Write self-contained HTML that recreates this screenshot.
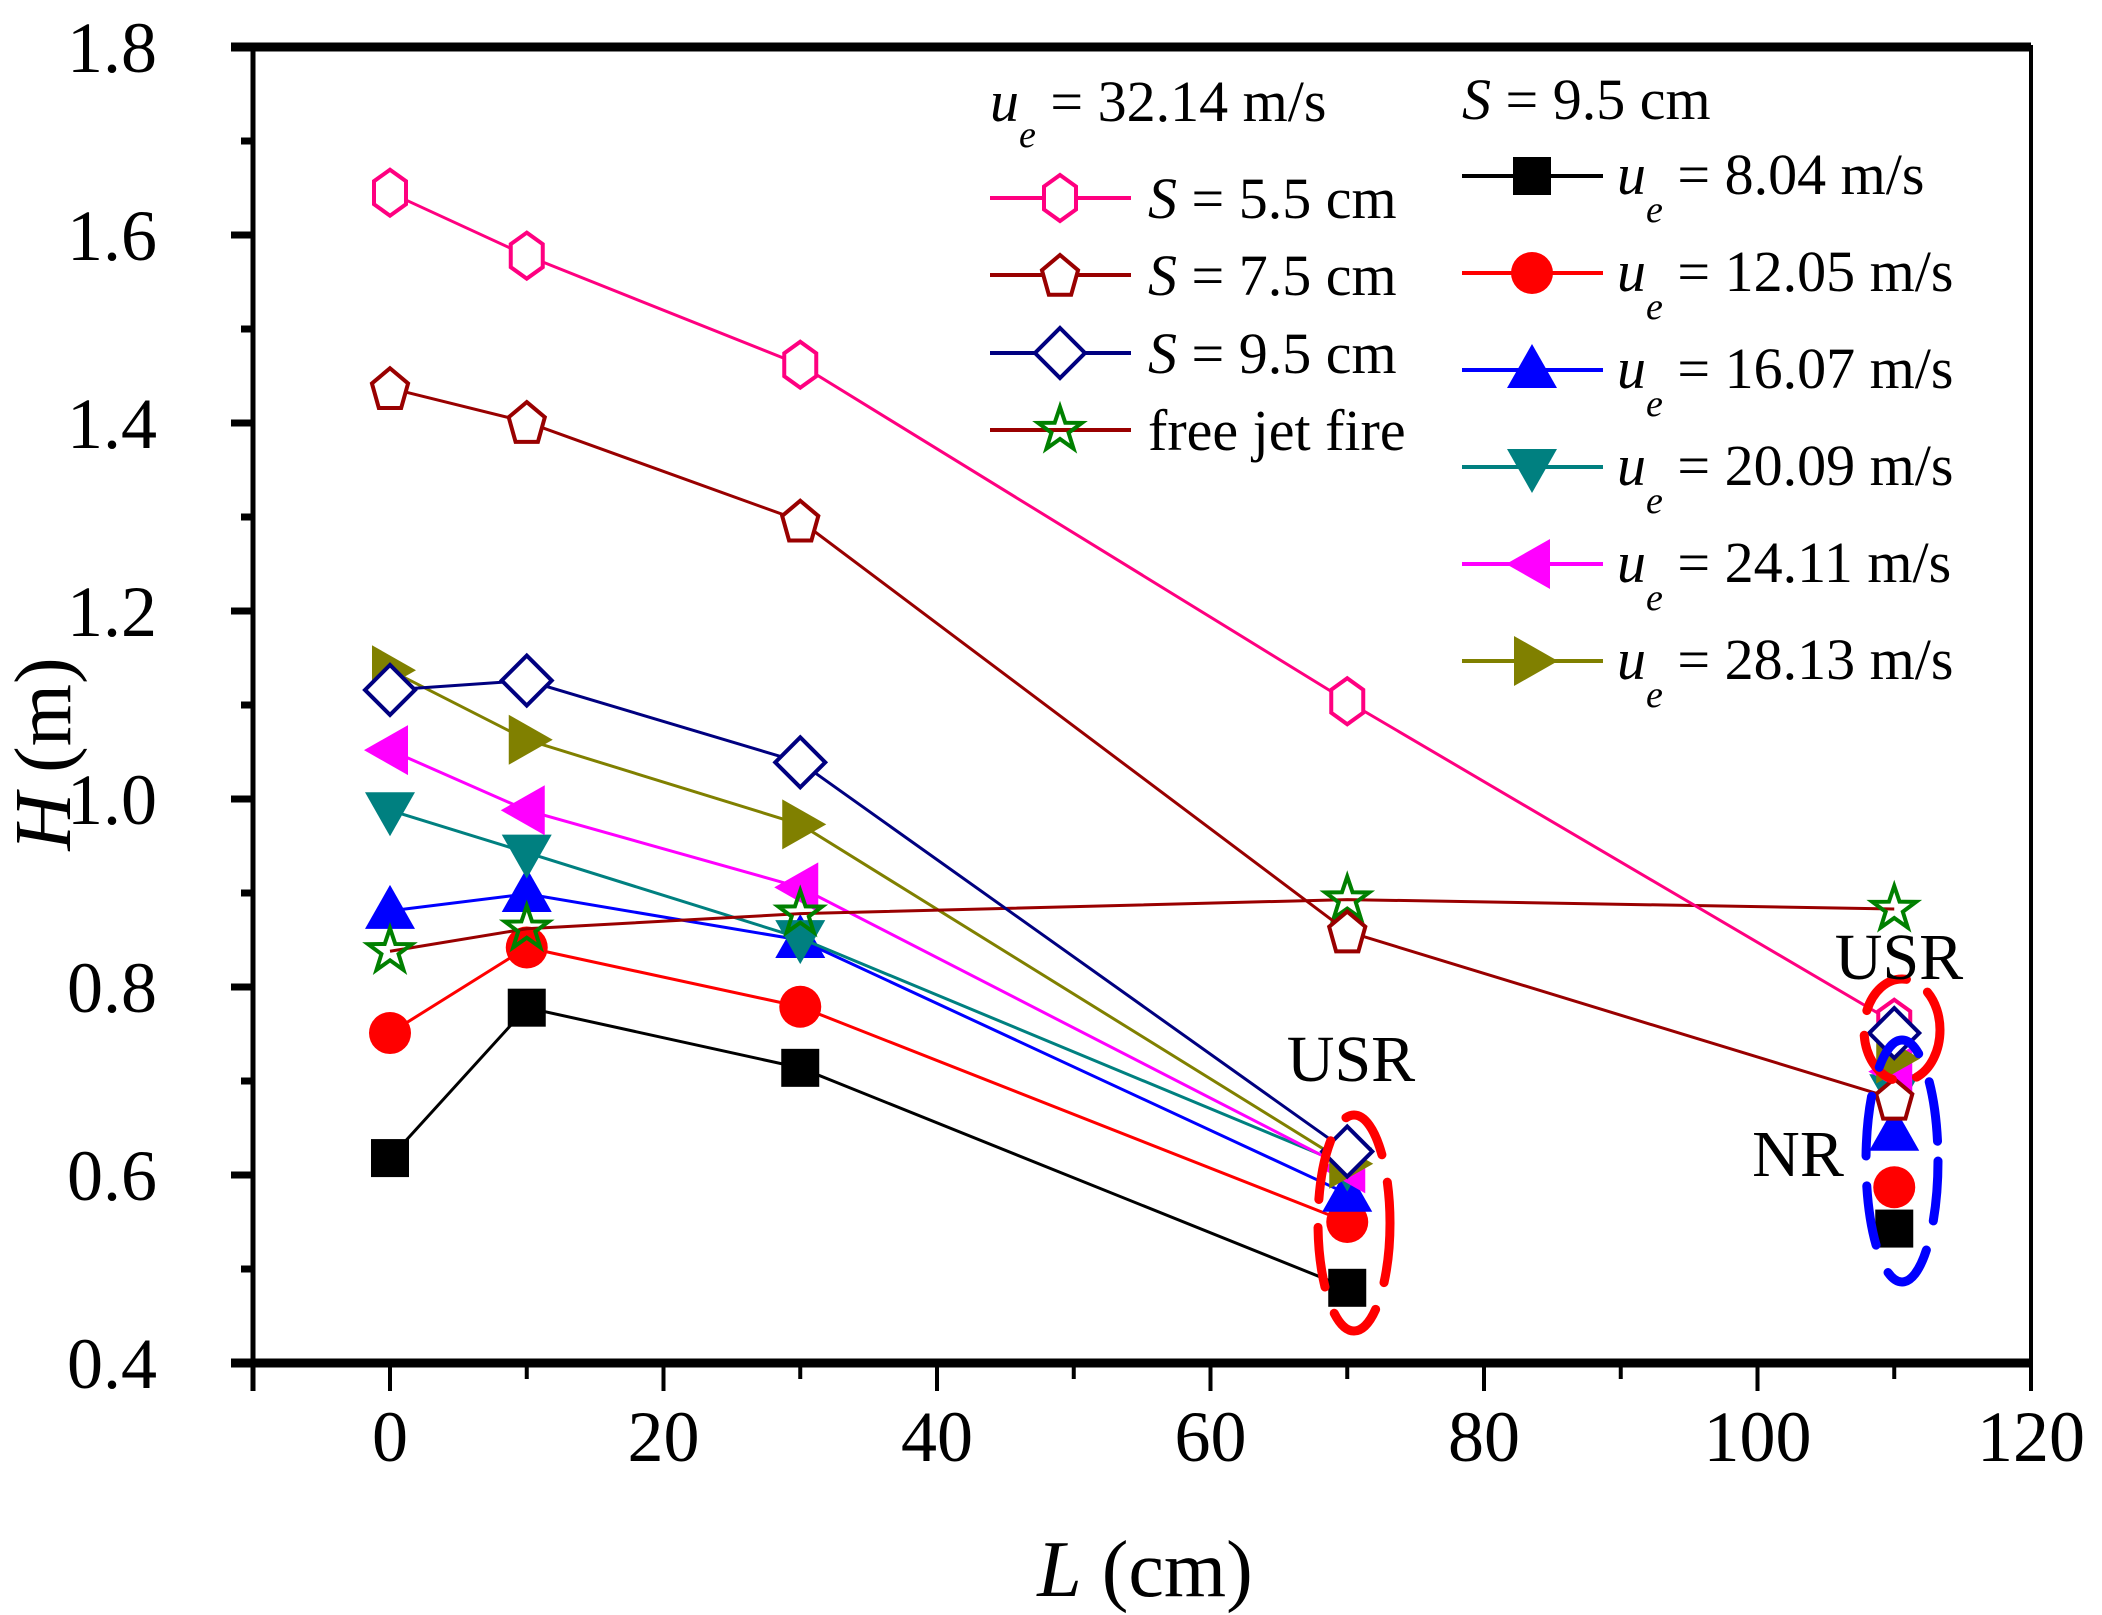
<!DOCTYPE html>
<html><head><meta charset="utf-8"><style>
html,body{margin:0;padding:0;background:#fff;}
svg{display:block;}
svg text{font-family:"Liberation Serif","Times New Roman",serif;}
</style></head><body>
<svg id="chart" width="2102" height="1615" viewBox="0 0 2102 1615" xmlns="http://www.w3.org/2000/svg" font-family="Liberation Serif, serif">
<g id="axes"></g>
<g id="series"></g>
<g id="legend"></g>
</svg>
<script>
const categories = [0, 10, 30, 70, 110];
const s55 = [1.645, 1.578, 1.462, 1.104, 0.762];
const s75 = [1.437, 1.401, 1.296, 0.859, 0.681];
const s95 = [1.116, 1.126, 1.039, 0.625, 0.751];
const freeJet = [0.838, 0.862, 0.878, 0.893, 0.883];
const u804 = [0.618, 0.778, 0.714, 0.480, 0.543];
const u1205 = [0.751, 0.842, 0.779, 0.550, 0.587];
const u1607 = [0.881, 0.899, 0.850, 0.580, 0.645];
const u2009 = [0.988, 0.943, 0.852, 0.610, 0.688];
const u2411 = [1.052, 0.988, 0.906, 0.607, 0.710];
const u2813 = [1.137, 1.063, 0.973, 0.612, 0.724];
const xTicks = [0, 20, 40, 60, 80, 100, 120];
const yTicks = [0.4, 0.6, 0.8, 1.0, 1.2, 1.4, 1.6, 1.8];
const xTickLabels = ["0", "20", "40", "60", "80", "100", "120"];
const yTickLabels = ["0.4", "0.6", "0.8", "1.0", "1.2", "1.4", "1.6", "1.8"];

const NS = "http://www.w3.org/2000/svg";
const L = 253, R = 2031, T = 47, B = 1363;
const X = v => 390 + v * (2031 - 390) / 120;
const Y = v => B - (v - 0.4) * (B - T) / 1.4;
function mk(tag, attrs, parent) {
  const e = document.createElementNS(NS, tag);
  for (const k in attrs) e.setAttribute(k, attrs[k]);
  if (tag === 'text') e.setAttribute('font-family', 'Liberation Serif, serif');
  parent.appendChild(e);
  return e;
}
const axes = document.getElementById('axes');
const ser = document.getElementById('series');
const leg = document.getElementById('legend');

let fr = mk('rect', {x: L, y: T, width: R - L, height: B - T, fill: 'none', stroke: '#000', 'stroke-width': 4}, axes);


let xa = mk('line', {x1: L - 22, y1: B, x2: R, y2: B, stroke: '#000', 'stroke-width': 9}, axes);


let ta = mk('line', {x1: L - 22, y1: T, x2: R, y2: T, stroke: '#000', 'stroke-width': 9}, axes);


let ya = mk('line', {x1: L, y1: T, x2: L, y2: B + 28, stroke: '#000', 'stroke-width': 5}, axes);



for (let v = -10; v <= 120; v += 10) {
  const major = v % 20 === 0;
  const t = mk('line', {x1: X(v), y1: B, x2: X(v), y2: B + (major ? 28 : 16), stroke: '#000', 'stroke-width': 4}, axes);
  
  
}
xTicks.forEach((v, i) => {
  const t = mk('text', {x: X(v), y: 1461, 'font-size': 72, 'text-anchor': 'middle'}, axes);
  t.textContent = xTickLabels[i];
  
  
});
for (let k = 0; k <= 14; k++) {
  const v = 0.4 + k * 0.1;
  const major = k % 2 === 0;
  const t = mk('line', {x1: L - (major ? 22 : 12), y1: Y(v), x2: L, y2: Y(v), stroke: '#000', 'stroke-width': 7}, axes);
  
  
}
yTicks.forEach((v, i) => {
  const t = mk('text', {x: 157, y: Y(v) + 25, 'font-size': 72, 'text-anchor': 'end'}, axes);
  t.textContent = yTickLabels[i];
  
  
});
let xt = mk('text', {x: 1145, y: 1596, 'font-size': 80, 'text-anchor': 'middle'}, axes);
xt.innerHTML = '<tspan font-style="italic">L</tspan> (cm)';


let yt = mk('text', {x: 0, y: 0, 'font-size': 80, 'text-anchor': 'middle', transform: 'translate(70,754) rotate(-90)'}, axes);
yt.innerHTML = '<tspan font-style="italic">H</tspan> (m)';



function marker(type, cx, cy, color, parent) {
  let e;
  const sw = 4;
  if (type === 'hex') {
    const w = 16, h = 23;
    e = mk('polygon', {points: `${cx},${cy-h} ${cx+w},${cy-h/2} ${cx+w},${cy+h/2} ${cx},${cy+h} ${cx-w},${cy+h/2} ${cx-w},${cy-h/2}`, fill: '#fff', stroke: color, 'stroke-width': sw}, parent);
  } else if (type === 'pent') {
    const pts = [];
    for (let i = 0; i < 5; i++) { const a = -Math.PI/2 + i*2*Math.PI/5; pts.push((cx + 19*Math.cos(a)) + ',' + (cy + 2 + 22*Math.sin(a))); }
    e = mk('polygon', {points: pts.join(' '), fill: '#fff', stroke: color, 'stroke-width': sw}, parent);
  } else if (type === 'diam') {
    e = mk('polygon', {points: `${cx},${cy-25} ${cx+25},${cy} ${cx},${cy+25} ${cx-25},${cy}`, fill: '#fff', stroke: color, 'stroke-width': sw}, parent);
  } else if (type === 'star') {
    const pts = [];
    for (let i = 0; i < 10; i++) { const a = -Math.PI/2 + i*Math.PI/5; const r = i%2 ? 9 : 23; pts.push((cx + r*Math.cos(a)) + ',' + (cy + r*Math.sin(a))); }
    e = mk('polygon', {points: pts.join(' '), fill: 'none', stroke: color, 'stroke-width': 4}, parent);
  } else if (type === 'sq') {
    e = mk('rect', {x: cx-19, y: cy-19, width: 38, height: 38, fill: color}, parent);
  } else if (type === 'circ') {
    e = mk('circle', {cx: cx, cy: cy, r: 21, fill: color}, parent);
  } else if (type === 'up') {
    e = mk('polygon', {points: `${cx},${cy-26} ${cx+25},${cy+18} ${cx-25},${cy+18}`, fill: color}, parent);
  } else if (type === 'down') {
    e = mk('polygon', {points: `${cx},${cy+26} ${cx+25},${cy-18} ${cx-25},${cy-18}`, fill: color}, parent);
  } else if (type === 'left') {
    e = mk('polygon', {points: `${cx-26},${cy} ${cx+18},${cy-25} ${cx+18},${cy+25}`, fill: color}, parent);
  } else if (type === 'right') {
    e = mk('polygon', {points: `${cx+26},${cy} ${cx-18},${cy-25} ${cx-18},${cy+25}`, fill: color}, parent);
  }
  return e;
}

// nLine: number of points joined by the connecting line (the last point at L=110 is unconnected for some series)
const seriesList = [
  {vals: u804, type: 'sq', color: '#000000', line: '#000000', nLine: 4, name: 'series-ue-8-04'},
  {vals: u1205, type: 'circ', color: '#FF0000', line: '#FF0000', nLine: 4, name: 'series-ue-12-05'},
  {vals: u1607, type: 'up', color: '#0000FF', line: '#0000FF', nLine: 4, name: 'series-ue-16-07'},
  {vals: u2009, type: 'down', color: '#008080', line: '#008080', nLine: 4, name: 'series-ue-20-09'},
  {vals: u2411, type: 'left', color: '#FF00FF', line: '#FF00FF', nLine: 4, name: 'series-ue-24-11'},
  {vals: u2813, type: 'right', color: '#808000', line: '#808000', nLine: 4, name: 'series-ue-28-13'},
  {vals: freeJet, type: 'star', color: '#008000', line: '#990000', nLine: 5, name: 'series-free-jet-fire'},
  {vals: s75, type: 'pent', color: '#990000', line: '#990000', nLine: 5, name: 'series-s-7-5'},
  {vals: s55, type: 'hex', color: '#FF0080', line: '#FF0080', nLine: 5, name: 'series-s-5-5'},
  {vals: s95, type: 'diam', color: '#000080', line: '#000080', nLine: 4, name: 'series-s-9-5'},
];
seriesList.forEach(s => {
  const g = mk('g', {}, ser);
  
  
  const pts = s.vals.slice(0, s.nLine).map((v, i) => X(categories[i]) + ',' + Y(v)).join(' ');
  const pl = mk('polyline', {points: pts, fill: 'none', stroke: s.line, 'stroke-width': 3}, g);
  
  
  s.vals.forEach((v, i) => {
    const m = marker(s.type, X(categories[i]), Y(v), s.color, g);
    
    
  });
});

const ann = mk('g', {}, ser);


let e1 = mk('ellipse', {cx: 1354, cy: 1223, rx: 36, ry: 108, fill: 'none', stroke: '#FF0000', 'stroke-width': 9, 'stroke-dasharray': '60 28', 'stroke-linecap': 'round'}, ann);


let e2 = mk('ellipse', {cx: 1902, cy: 1030, rx: 38, ry: 51, fill: 'none', stroke: '#FF0000', 'stroke-width': 9, 'stroke-dasharray': '55 25', 'stroke-linecap': 'round'}, ann);


let e3 = mk('ellipse', {cx: 1902, cy: 1161, rx: 36, ry: 121, fill: 'none', stroke: '#0000FF', 'stroke-width': 9, 'stroke-dasharray': '60 30', 'stroke-linecap': 'round'}, ann);


[['USR', 1351, 1081, 'usr-label-70'], ['USR', 1899, 979, 'usr-label-110'], ['NR', 1798, 1176, 'nr-label']].forEach(a => {
  const t = mk('text', {x: a[1], y: a[2], 'font-size': 66, 'text-anchor': 'middle'}, ann);
  t.textContent = a[0];
  
  
});

let lt1 = mk('text', {x: 990, y: 121, 'font-size': 58}, leg);
lt1.innerHTML = '<tspan font-style="italic">u</tspan><tspan font-style="italic" font-size="38" dy="26">e</tspan><tspan dy="-26"> = 32.14 m/s</tspan>';


let lt2 = mk('text', {x: 1462, y: 119, 'font-size': 58}, leg);
lt2.innerHTML = '<tspan font-style="italic">S</tspan> = 9.5 cm';



const leftLeg = [
  {type: 'hex', color: '#FF0080', line: '#FF0080', y: 198, label: '<tspan font-style="italic">S</tspan> = 5.5 cm'},
  {type: 'pent', color: '#990000', line: '#990000', y: 275, label: '<tspan font-style="italic">S</tspan> = 7.5 cm'},
  {type: 'diam', color: '#000080', line: '#000080', y: 353, label: '<tspan font-style="italic">S</tspan> = 9.5 cm'},
  {type: 'star', color: '#008000', line: '#990000', y: 430, label: 'free jet fire'},
];
leftLeg.forEach(l => {
  const g = mk('g', {}, leg);
  
  
  mk('line', {x1: 990, y1: l.y, x2: 1131, y2: l.y, stroke: l.line, 'stroke-width': 4}, g);
  marker(l.type, 1060, l.y, l.color, g);
  const t = mk('text', {x: 1148, y: l.y + 20, 'font-size': 58}, g);
  t.innerHTML = l.label;
});
const rightLeg = [
  {type: 'sq', color: '#000000', y: 176, label: '8.04'},
  {type: 'circ', color: '#FF0000', y: 273, label: '12.05'},
  {type: 'up', color: '#0000FF', y: 370, label: '16.07'},
  {type: 'down', color: '#008080', y: 467, label: '20.09'},
  {type: 'left', color: '#FF00FF', y: 564, label: '24.11'},
  {type: 'right', color: '#808000', y: 661, label: '28.13'},
];
rightLeg.forEach(l => {
  const g = mk('g', {}, leg);
  
  
  mk('line', {x1: 1462, y1: l.y, x2: 1603, y2: l.y, stroke: l.color, 'stroke-width': 4}, g);
  marker(l.type, 1532, l.y, l.color, g);
  const t = mk('text', {x: 1617, y: l.y + 18, 'font-size': 58}, g);
  t.innerHTML = '<tspan font-style="italic">u</tspan><tspan font-style="italic" font-size="38" dy="28">e</tspan><tspan dy="-28"> = ' + l.label + ' m/s</tspan>';
});
</script>
</body></html>
